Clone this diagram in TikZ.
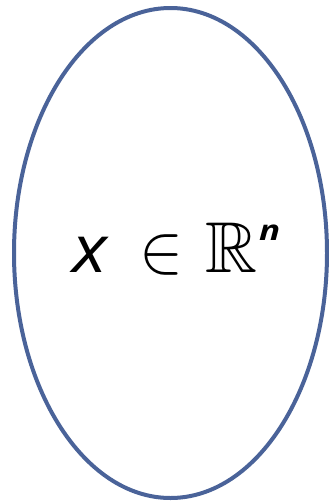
\documentclass[tikz,border=0pt]{standalone}
\usepackage{amssymb}
\usepackage{graphicx}
\usepackage{fontspec}
\setmainfont{Open Sans}
\definecolor{ellcol}{RGB}{74,99,153}
\tikzset{
  outline/.style={draw=ellcol, line width=4pt},
  glyph/.style={anchor=base west, inner sep=0pt, outer sep=0pt}
}
\begin{document}
\begin{tikzpicture}[x=1pt,y=-1pt]
\useasboundingbox (0,0) rectangle (329,501);
\draw[outline] (170.5,253) ellipse [x radius=156.5, y radius=245];
\node[glyph] (vx) at (72,272) {\scalebox{1.1}[1]{\fontsize{66}{72}\selectfont\itshape x}};
\node[glyph] (elem) at (139,272) {\scalebox{6.6}[7.0]{$\in$}};
\node[glyph] (reals) at (205,272) {\scalebox{7.2}{$\mathbb{R}$}};
\node[glyph] (dim) at (259,240) {\scalebox{1.25}[1]{\fontsize{28}{34}\selectfont\bfseries\itshape n}};
\end{tikzpicture}
\end{document}
